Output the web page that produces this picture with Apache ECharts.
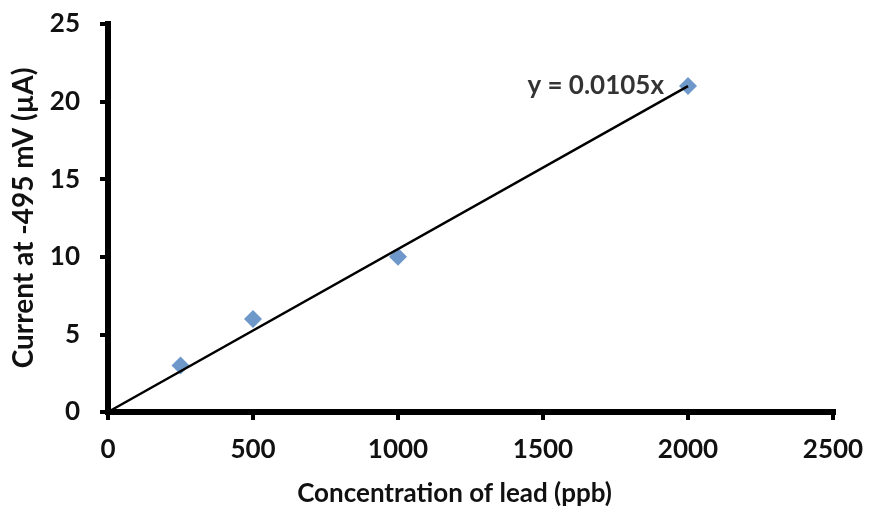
<!DOCTYPE html>
<html>
<head>
<meta charset="utf-8">
<script src="https://cdn.jsdelivr.net/npm/echarts@6/dist/echarts.min.js"></script>
<style>
  html, body { margin: 0; padding: 0; background: #fff; }
  #grafico { width: 869px; height: 512px; }
</style>
</head>
<body>
<div id="grafico"></div>
<script>
// datos
const concentracion = [250, 500, 1000, 2000];
const corriente = [3, 6, 10, 21];
const pendiente = 0.0105;
const xTicks = [0, 500, 1000, 1500, 2000, 2500];
const yTicks = [0, 5, 10, 15, 20, 25];

const fuente = 'Lato';
const colorTexto = '#111';

function dibujarCalibracion() {
    let graf = echarts.init(document.getElementById('grafico'));

    let puntos = concentracion.map((c, i) => [c, corriente[i]]);
    let xFin = concentracion[concentracion.length - 1];
    let tendencia = [[0, 0], [xFin, pendiente * xFin]];

    let textoEje = {
        fontFamily: fuente,
        fontWeight: 'bold',
        color: colorTexto
    };

    let ejeComun = {
        type: 'value',
        nameLocation: 'middle',
        axisLine: { show: true, onZero: false, lineStyle: { color: '#000', width: 6, cap: 'square' } },
        axisTick: { show: true, inside: false, length: 8, lineStyle: { color: '#000', width: 4 } },
        splitLine: { show: false }
    };

    let option = {
        animation: false,
        grid: { left: 108, right: 36, top: 24, bottom: 100, containLabel: false },
        xAxis: Object.assign({}, ejeComun, {
            name: 'Concentration of lead (ppb)',
            nameGap: 69,
            nameTextStyle: Object.assign({}, textoEje, { fontSize: 26, padding: [0, 32, 0, 0] }),
            min: xTicks[0],
            max: xTicks[xTicks.length - 1],
            interval: xTicks[1] - xTicks[0],
            axisLabel: Object.assign({}, textoEje, { fontSize: 26, margin: 25, formatter: v => String(v) })
        }),
        yAxis: Object.assign({}, ejeComun, {
            name: 'Current at -495 mV (\u00b5A)',
            nameGap: 70,
            nameTextStyle: Object.assign({}, textoEje, { fontSize: 28 }),
            min: yTicks[0],
            max: yTicks[yTicks.length - 1],
            interval: yTicks[1] - yTicks[0],
            axisLabel: Object.assign({}, textoEje, { fontSize: 26, margin: 28, formatter: v => String(v) })
        }),
        series: [
            {
                name: 'Corriente',
                type: 'scatter',
                symbol: 'diamond',
                symbolSize: 18,
                itemStyle: { color: '#4A7EBB' },
                data: puntos,
                z: 2
            },
            {
                name: 'Tendencia',
                type: 'line',
                showSymbol: false,
                lineStyle: { color: '#000', width: 2.5 },
                data: tendencia,
                z: 3
            },
            {
                name: 'Ecuacion',
                type: 'scatter',
                symbolSize: 2,
                itemStyle: { color: 'rgba(0,0,0,0)' },
                data: [tendencia[1]],
                label: {
                    show: true,
                    position: 'left',
                    distance: 23,
                    formatter: 'y = ' + pendiente + 'x',
                    fontFamily: fuente,
                    fontWeight: 'bold',
                    fontSize: 26,
                    color: '#000'
                },
                z: 4
            }
        ]
    };

    graf.setOption(option);
}

dibujarCalibracion();
</script>
</body>
</html>
